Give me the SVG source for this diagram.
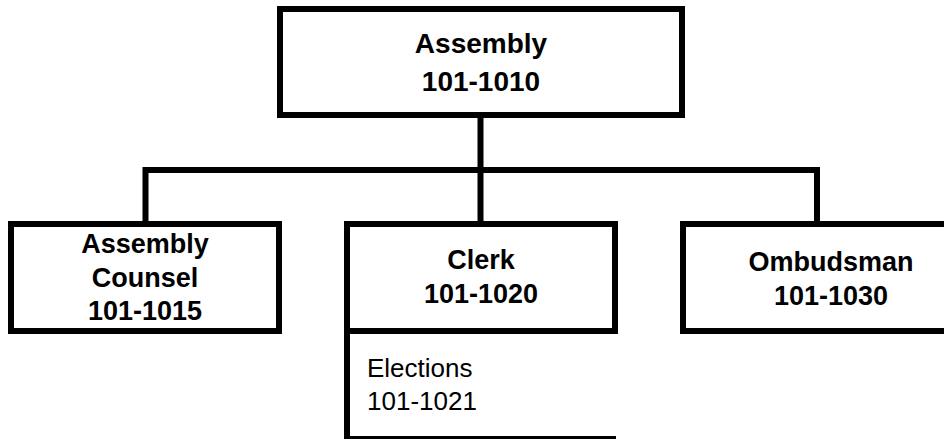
<svg xmlns="http://www.w3.org/2000/svg" width="944" height="440" viewBox="0 0 944 440">
<style>
.box{fill:#fff;stroke:#000;stroke-width:6}
.ln{fill:none;stroke:#000;stroke-width:6}
.t{font-family:"Liberation Sans",Arial,sans-serif;font-weight:bold;font-size:27px;text-anchor:middle;fill:#000}
.big{font-size:28px}
.r{font-family:"Liberation Sans",Arial,sans-serif;font-size:26px;fill:#000}
</style>
<rect width="944" height="440" fill="#fff"/>
<g id="connectors">
<line class="ln" x1="480.5" y1="115" x2="480.5" y2="224"/>
<polyline class="ln" points="145.5,224 145.5,170 817,170 817,224"/>
<polyline class="ln" points="347,331 347,439"/>
<line x1="344" y1="437.5" x2="616" y2="437.5" stroke="#000" stroke-width="3"/>
</g>
<g id="assembly">
<rect class="box" x="280" y="9" width="402" height="106"/>
<text class="t big" x="481" y="53">Assembly</text>
<text class="t big" x="481" y="91">101-1010</text>
</g>
<g id="counsel">
<rect class="box" x="11" y="224" width="268" height="107"/>
<text class="t" x="145" y="253">Assembly</text>
<text class="t" x="145" y="287">Counsel</text>
<text class="t" x="145" y="320">101-1015</text>
</g>
<g id="clerk">
<rect class="box" x="347" y="224" width="268" height="107"/>
<text class="t" x="481" y="269">Clerk</text>
<text class="t" x="481" y="303">101-1020</text>
</g>
<g id="elections">
<text class="r" x="367" y="377">Elections</text>
<text class="r" x="367" y="410">101-1021</text>
</g>
<g id="ombudsman">
<rect class="box" x="683" y="224" width="280" height="107"/>
<text class="t" x="831" y="271">Ombudsman</text>
<text class="t" x="831" y="305">101-1030</text>
</g>
</svg>
